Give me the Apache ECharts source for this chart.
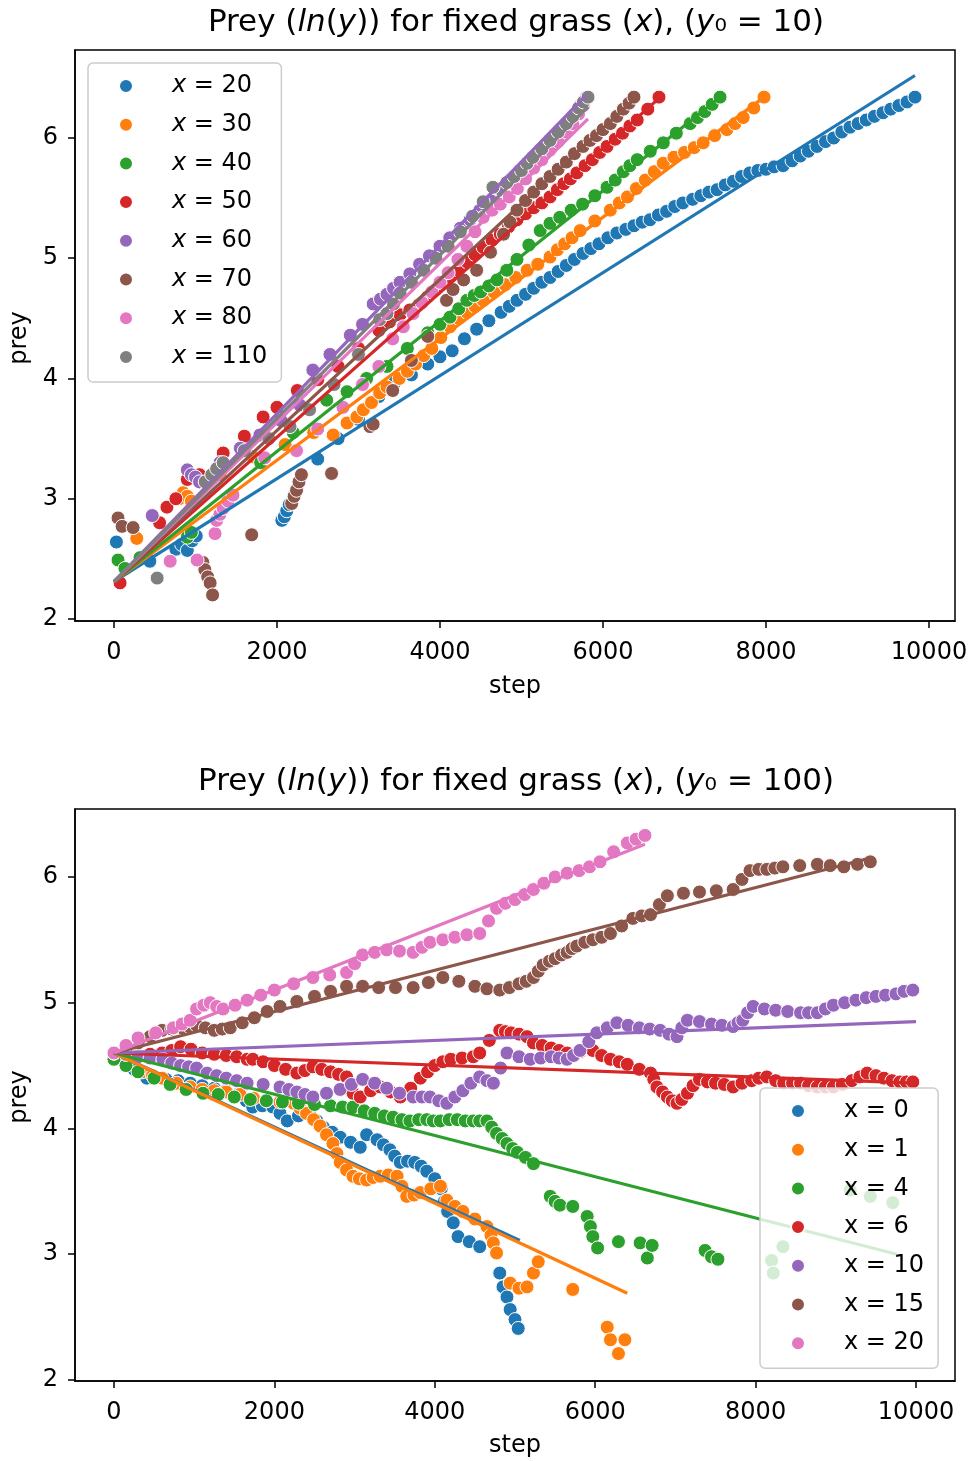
<!DOCTYPE html>
<html><head><meta charset="utf-8">
<script src="https://cdn.jsdelivr.net/npm/echarts@6/dist/echarts.min.js"></script>
<style>html,body{margin:0;padding:0;background:#fff}#c{width:973px;height:1461px}</style>
</head><body><div id="c"></div>
<script>
// ---------- tick labels ----------
const xTicks = [0, 2000, 4000, 6000, 8000, 10000];
const yTicks = [2, 3, 4, 5, 6];

// ---------- top panel (y0 = 10) ----------
const topLabels = ['20', '30', '40', '50', '60', '70', '80', '110'];
const t20 = [[30,2.64],[440,2.48],[760,2.58],[830,2.62],[900,2.57],[960,2.65],[1010,2.69],[2060,2.82],[2090,2.85],[2120,2.9],[2150,2.95],[2500,3.33],[2750,3.5],[3000,3.66],[3250,3.85],[3450,3.97],[3650,4.03],[3850,4.12],[4000,4.18],[4150,4.23],[4300,4.33],[4450,4.41],[4600,4.48],[4750,4.55],[4850,4.6],[4945,4.65],[5050,4.7],[5150,4.75],[5250,4.8],[5350,4.84],[5450,4.89],[5550,4.94],[5650,4.99],[5755,5.04],[5850,5.08],[5950,5.12],[6060,5.17],[6170,5.21],[6280,5.24],[6380,5.27],[6480,5.3],[6577,5.32],[6680,5.36],[6780,5.39],[6880,5.43],[6980,5.46],[7100,5.49],[7200,5.52],[7300,5.55],[7400,5.57],[7500,5.61],[7600,5.64],[7700,5.68],[7800,5.71],[7900,5.73],[8000,5.74],[8100,5.76],[8210,5.77],[8320,5.81],[8420,5.85],[8520,5.89],[8625,5.93],[8730,5.97],[8830,6.0],[8930,6.05],[9030,6.09],[9130,6.12],[9230,6.15],[9330,6.18],[9435,6.21],[9530,6.24],[9630,6.27],[9730,6.3],[9828,6.34]];
const t30 = [[280,2.67],[800,3.0],[850,3.05],[900,3.02],[950,2.98],[1300,3.2],[1700,3.35],[2100,3.45],[2450,3.55],[2690,3.53],[2860,3.63],[2980,3.68],[3060,3.74],[3160,3.8],[3260,3.88],[3350,3.93],[3500,4.0],[3600,4.06],[3700,4.12],[3800,4.19],[3900,4.25],[4010,4.34],[4123,4.43],[4230,4.5],[4330,4.55],[4430,4.6],[4530,4.65],[4660,4.72],[4800,4.78],[4930,4.84],[5070,4.9],[5200,4.95],[5350,5.01],[5440,5.07],[5530,5.12],[5620,5.17],[5720,5.23],[5900,5.31],[6090,5.4],[6200,5.46],[6300,5.51],[6410,5.58],[6520,5.65],[6630,5.72],[6740,5.79],[6870,5.84],[7000,5.88],[7120,5.92],[7230,5.96],[7370,6.02],[7520,6.07],[7620,6.12],[7720,6.17],[7850,6.25],[7976,6.34]];
const t40 = [[50,2.49],[135,2.42],[320,2.51],[900,2.68],[950,2.72],[1400,3.0],[1800,3.3],[2200,3.55],[2610,3.82],[2860,3.89],[3100,4.0],[3350,4.1],[3600,4.25],[3850,4.38],[4000,4.45],[4123,4.51],[4230,4.58],[4330,4.65],[4420,4.69],[4500,4.72],[4600,4.77],[4700,4.82],[4820,4.9],[4945,4.99],[5090,5.11],[5230,5.23],[5350,5.29],[5470,5.34],[5610,5.4],[5750,5.45],[5900,5.52],[6050,5.59],[6150,5.65],[6250,5.72],[6330,5.77],[6420,5.82],[6580,5.89],[6740,5.96],[6900,6.04],[7070,6.12],[7160,6.17],[7250,6.22],[7340,6.28],[7436,6.34]];
const t50 = [[75,2.3],[560,2.8],[650,2.93],[760,3.0],[900,3.16],[1050,3.2],[1340,3.38],[1600,3.52],[1830,3.68],[2000,3.76],[2250,3.9],[2500,3.99],[2750,4.1],[3000,4.25],[3250,4.4],[3380,4.47],[3510,4.53],[3630,4.57],[3750,4.62],[3850,4.68],[3950,4.74],[4040,4.79],[4123,4.84],[4230,4.9],[4330,4.97],[4430,5.03],[4530,5.09],[4640,5.15],[4740,5.2],[4840,5.26],[4945,5.32],[5050,5.37],[5150,5.42],[5250,5.46],[5350,5.51],[5440,5.57],[5520,5.62],[5600,5.66],[5680,5.71],[5780,5.77],[5870,5.82],[5960,5.88],[6050,5.93],[6150,5.99],[6240,6.04],[6330,6.1],[6420,6.15],[6550,6.24],[6687,6.34]];
const t60 = [[470,2.86],[900,3.24],[950,3.2],[1000,3.18],[1050,3.14],[1300,3.3],[1550,3.42],[1790,3.53],[2050,3.65],[2280,3.78],[2440,4.07],[2650,4.2],[2900,4.36],[3050,4.45],[3180,4.62],[3270,4.66],[3350,4.7],[3430,4.75],[3510,4.8],[3630,4.87],[3750,4.95],[3870,5.02],[4000,5.1],[4120,5.17],[4250,5.25],[4370,5.32],[4490,5.4],[4620,5.48],[4750,5.57],[4860,5.65],[4980,5.73],[5100,5.81],[5230,5.9],[5350,5.98],[5470,6.07],[5560,6.13],[5650,6.2],[5720,6.27],[5800,6.34]];
const t70 = [[50,2.84],[100,2.77],[235,2.76],[1090,2.47],[1115,2.41],[1150,2.35],[1180,2.3],[1210,2.2],[1690,2.7],[2180,2.96],[2210,3.02],[2240,3.07],[2270,3.14],[2300,3.2],[2670,3.21],[3140,3.6],[3180,3.62],[3420,3.9],[3650,4.15],[3850,4.35],[4080,4.65],[4160,4.74],[4290,4.82],[4450,4.9],[4620,5.05],[4780,5.2],[4860,5.3],[4945,5.4],[5050,5.48],[5150,5.55],[5250,5.62],[5350,5.68],[5450,5.74],[5550,5.8],[5650,5.87],[5755,5.93],[5840,5.98],[5920,6.02],[6000,6.07],[6090,6.12],[6170,6.18],[6250,6.24],[6320,6.29],[6380,6.34]];
const t80 = [[690,2.48],[1020,2.49],[1240,2.71],[1260,2.82],[1300,2.87],[1340,2.92],[1400,2.98],[1460,3.03],[1850,3.34],[2240,3.4],[2500,3.58],[2810,3.76],[3050,3.95],[3250,4.1],[3420,4.33],[3550,4.43],[3670,4.54],[3780,4.63],[3900,4.72],[4000,4.8],[4100,4.88],[4220,4.99],[4330,5.1],[4430,5.22],[4530,5.34],[4640,5.4],[4740,5.45],[4850,5.51],[4950,5.58],[5050,5.66],[5150,5.75],[5250,5.82],[5350,5.9],[5450,5.97],[5550,6.05],[5630,6.12],[5700,6.2],[5760,6.27],[5816,6.34]];
const t110 = [[530,2.34],[1120,3.14],[1200,3.2],[1260,3.25],[1340,3.3],[1600,3.4],[1900,3.5],[2160,3.6],[2400,3.74],[2700,3.95],[3000,4.2],[3260,4.49],[3350,4.54],[3430,4.62],[3510,4.71],[3650,4.8],[3800,4.9],[3950,5.0],[4100,5.1],[4250,5.22],[4400,5.35],[4530,5.47],[4650,5.59],[4820,5.63],[4910,5.68],[5000,5.73],[5070,5.79],[5140,5.84],[5250,5.91],[5350,5.98],[5450,6.05],[5550,6.12],[5630,6.18],[5700,6.25],[5760,6.3],[5816,6.34]];
// fitted lines (endpoints)
const t20Fit = [[0,2.31],[9828,6.52]];
const t30Fit = [[0,2.31],[7976,6.34]];
const t40Fit = [[0,2.31],[7436,6.34]];
const t50Fit = [[0,2.31],[6687,6.33]];
const t60Fit = [[0,2.31],[5800,6.36]];
const t70Fit = [[0,2.31],[6380,6.32]];
const t80Fit = [[0,2.31],[5816,6.16]];
const t110Fit = [[0,2.31],[5816,6.26]];

// ---------- bottom panel (y0 = 100) ----------
const bottomLabels = ['0', '1', '4', '6', '10', '15', '20'];
const b0 = [[0,4.6],[100,4.55],[250,4.47],[410,4.4],[510,4.4],[650,4.39],[800,4.38],[950,4.36],[1100,4.34],[1250,4.32],[1400,4.3],[1570,4.28],[1650,4.22],[1730,4.17],[1850,4.18],[1980,4.17],[2070,4.12],[2160,4.06],[2300,4.1],[2440,4.12],[2530,4.06],[2610,4.01],[2720,3.97],[2820,3.93],[2950,3.89],[3070,3.85],[3150,3.95],[3280,3.91],[3360,3.87],[3440,3.83],[3500,3.78],[3570,3.73],[3660,3.74],[3750,3.73],[3830,3.7],[3900,3.66],[4000,3.6],[4080,3.52],[4120,3.42],[4160,3.34],[4230,3.25],[4290,3.14],[4430,3.1],[4560,3.06],[4810,2.85],[4850,2.74],[4900,2.66],[4940,2.56],[5000,2.48],[5040,2.41]];
const b1 = [[0,4.6],[150,4.52],[350,4.45],[480,4.42],[600,4.4],[780,4.36],[950,4.33],[1100,4.31],[1250,4.3],[1400,4.29],[1570,4.27],[1740,4.24],[1900,4.22],[2070,4.21],[2240,4.2],[2320,4.16],[2400,4.12],[2490,4.07],[2570,4.02],[2650,3.95],[2730,3.88],[2780,3.8],[2820,3.73],[2900,3.67],[2980,3.62],[3060,3.6],[3150,3.59],[3230,3.61],[3320,3.62],[3420,3.63],[3530,3.62],[3590,3.54],[3650,3.46],[3740,3.47],[3820,3.49],[3950,3.52],[4070,3.54],[4150,3.43],[4250,3.38],[4350,3.34],[4500,3.28],[4650,3.22],[4700,3.15],[4730,3.09],[4770,3.01],[4940,2.77],[5050,2.73],[5150,2.74],[5230,2.85],[5290,2.94],[5720,2.72],[6150,2.42],[6190,2.32],[6290,2.21],[6370,2.32]];
const b4 = [[0,4.55],[150,4.5],[300,4.45],[500,4.4],[700,4.35],[900,4.31],[1110,4.28],[1300,4.27],[1500,4.25],[1700,4.23],[1900,4.22],[2100,4.21],[2300,4.2],[2500,4.19],[2700,4.18],[2850,4.17],[2980,4.17],[3120,4.14],[3250,4.12],[3370,4.1],[3480,4.09],[3590,4.07],[3690,4.06],[3800,4.07],[3900,4.07],[3980,4.06],[4070,4.06],[4180,4.07],[4280,4.07],[4380,4.06],[4480,4.06],[4560,4.06],[4650,4.06],[4710,4.01],[4770,3.96],[4840,3.92],[4900,3.88],[4970,3.84],[5030,3.81],[5130,3.77],[5230,3.72],[5440,3.46],[5500,3.42],[5560,3.39],[5720,3.38],[5900,3.3],[5940,3.22],[5970,3.14],[6030,3.05],[6290,3.1],[6560,3.09],[6650,2.97],[6710,3.07],[7370,3.03],[7450,2.98],[7530,2.96],[8200,2.95],[8220,2.85],[8340,3.06],[9180,3.51],[9430,3.46],[9710,3.41]];
const b6 = [[0,4.6],[150,4.59],[300,4.58],[450,4.59],[600,4.6],[720,4.62],[830,4.65],[960,4.63],[1100,4.6],[1250,4.59],[1400,4.58],[1530,4.57],[1660,4.55],[1730,4.55],[1860,4.53],[2000,4.5],[2140,4.47],[2280,4.44],[2380,4.46],[2480,4.49],[2590,4.47],[2700,4.45],[2800,4.43],[2900,4.41],[2940,4.34],[2980,4.28],[3070,4.25],[3200,4.3],[3320,4.33],[3450,4.29],[3570,4.25],[3700,4.32],[3820,4.4],[3910,4.45],[4000,4.5],[4100,4.53],[4200,4.55],[4340,4.56],[4480,4.57],[4560,4.6],[4680,4.7],[4810,4.78],[4880,4.77],[4950,4.76],[5050,4.75],[5150,4.73],[5230,4.68],[5340,4.66],[5450,4.64],[5550,4.62],[5650,4.6],[5810,4.61],[5970,4.62],[6080,4.58],[6190,4.55],[6300,4.53],[6400,4.51],[6550,4.47],[6690,4.44],[6730,4.39],[6770,4.33],[6840,4.29],[6900,4.25],[6960,4.22],[7020,4.2],[7080,4.23],[7150,4.28],[7220,4.34],[7300,4.39],[7400,4.37],[7500,4.36],[7610,4.35],[7720,4.33],[7830,4.36],[7950,4.38],[8040,4.4],[8140,4.41],[8250,4.38],[8350,4.36],[8460,4.36],[8560,4.36],[8660,4.34],[8770,4.33],[8870,4.33],[8970,4.33],[9080,4.35],[9200,4.38],[9300,4.41],[9390,4.44],[9500,4.42],[9600,4.4],[9700,4.38],[9800,4.37],[9880,4.37],[9960,4.37]];
const b10 = [[0,4.6],[150,4.59],[300,4.57],[450,4.56],[610,4.55],[720,4.52],[830,4.5],[930,4.49],[1030,4.48],[1160,4.44],[1280,4.42],[1400,4.4],[1530,4.38],[1660,4.36],[1860,4.35],[2070,4.33],[2180,4.31],[2280,4.29],[2380,4.27],[2480,4.25],[2650,4.28],[2820,4.31],[2960,4.35],[3100,4.39],[3250,4.36],[3400,4.32],[3560,4.28],[3730,4.25],[3840,4.25],[3940,4.25],[4050,4.22],[4150,4.2],[4250,4.25],[4350,4.3],[4450,4.36],[4560,4.41],[4650,4.38],[4730,4.36],[4820,4.48],[4900,4.6],[5050,4.57],[5190,4.55],[5320,4.56],[5450,4.57],[5550,4.56],[5650,4.55],[5730,4.58],[5810,4.62],[5920,4.69],[6020,4.76],[6150,4.8],[6270,4.84],[6410,4.82],[6550,4.8],[6680,4.79],[6810,4.78],[6920,4.75],[7020,4.73],[7080,4.8],[7150,4.86],[7300,4.85],[7450,4.83],[7580,4.82],[7720,4.81],[7780,4.84],[7840,4.86],[7900,4.92],[7970,4.97],[8110,4.95],[8250,4.94],[8400,4.93],[8560,4.92],[8660,4.92],[8770,4.92],[8870,4.95],[8970,4.98],[9110,5.0],[9250,5.02],[9380,5.04],[9500,5.05],[9620,5.06],[9750,5.07],[9850,5.09],[9960,5.1]];
const b15 = [[0,4.6],[150,4.64],[300,4.68],[450,4.73],[600,4.78],[720,4.79],[850,4.8],[940,4.81],[1030,4.82],[1140,4.8],[1250,4.78],[1350,4.79],[1450,4.8],[1600,4.84],[1750,4.88],[1910,4.93],[2070,4.97],[2280,5.01],[2500,5.05],[2700,5.09],[2900,5.13],[3100,5.13],[3300,5.12],[3510,5.12],[3730,5.12],[3920,5.16],[4100,5.2],[4300,5.17],[4500,5.13],[4650,5.11],[4810,5.1],[4930,5.12],[5050,5.15],[5140,5.17],[5230,5.2],[5290,5.25],[5350,5.3],[5430,5.33],[5500,5.35],[5580,5.38],[5650,5.4],[5710,5.43],[5770,5.45],[5870,5.48],[5970,5.5],[6080,5.52],[6190,5.55],[6330,5.61],[6470,5.67],[6580,5.69],[6690,5.7],[6800,5.78],[6900,5.85],[7100,5.87],[7300,5.88],[7510,5.89],[7720,5.9],[7830,5.98],[7930,6.05],[8040,6.06],[8140,6.06],[8240,6.07],[8340,6.08],[8550,6.09],[8770,6.1],[8930,6.09],[9100,6.08],[9270,6.1],[9430,6.12]];
const b20 = [[0,4.6],[150,4.66],[300,4.72],[520,4.76],[740,4.8],[850,4.83],[950,4.86],[1030,4.95],[1120,4.98],[1200,5.0],[1280,4.97],[1360,4.95],[1510,4.98],[1660,5.02],[1830,5.06],[2000,5.1],[2240,5.15],[2480,5.2],[2690,5.22],[2900,5.24],[3000,5.31],[3100,5.38],[3250,5.4],[3400,5.42],[3560,5.41],[3730,5.4],[3840,5.44],[3940,5.48],[4100,5.5],[4250,5.52],[4400,5.54],[4560,5.55],[4670,5.65],[4770,5.75],[4880,5.79],[5000,5.82],[5120,5.86],[5230,5.9],[5360,5.95],[5500,6.0],[5650,6.03],[5800,6.05],[5930,6.08],[6060,6.12],[6230,6.2],[6400,6.27],[6510,6.3],[6620,6.33]];
const b0Fit = [[0,4.6],[5060,3.11]];
const b1Fit = [[0,4.6],[6400,2.69]];
const b4Fit = [[0,4.6],[9760,3.0]];
const b6Fit = [[0,4.6],[10000,4.36]];
const b10Fit = [[0,4.6],[10000,4.85]];
const b15Fit = [[0,4.6],[9430,6.15]];
const b20Fit = [[0,4.6],[6620,6.26]];

// ---------- styles ----------
const palette = ['#1f77b4','#ff7f0e','#2ca02c','#d62728','#9467bd','#8c564b','#e377c2','#7f7f7f'];
const FONT = 'DejaVu Sans';
const topData = [t20, t30, t40, t50, t60, t70, t80, t110];
const topFits = [t20Fit, t30Fit, t40Fit, t50Fit, t60Fit, t70Fit, t80Fit, t110Fit];
const botData = [b0, b1, b4, b6, b10, b15, b20];
const botFits = [b0Fit, b1Fit, b4Fit, b6Fit, b10Fit, b15Fit, b20Fit];

const topNames = topLabels.map(v => 'T' + v);
const botNames = bottomLabels.map(v => 'B' + v);

function scatter(name, data, idx, color) {
  return { type: 'scatter', name, data, xAxisIndex: idx, yAxisIndex: idx,
    symbol: 'circle', symbolSize: 14,
    itemStyle: { color, borderColor: '#ffffff', borderWidth: 1, opacity: 1 },
    emphasis: { disabled: true }, silent: true, z: 2 };
}
function fit(data, idx, color) {
  return { type: 'line', data, xAxisIndex: idx, yAxisIndex: idx, symbol: 'none',
    lineStyle: { color, width: 3.2 }, emphasis: { disabled: true }, silent: true, z: 3 };
}

const series = [];
topData.forEach((d, i) => series.push(scatter(topNames[i], d, 0, palette[i])));
botData.forEach((d, i) => series.push(scatter(botNames[i], d, 1, palette[i])));
topFits.forEach((d, i) => series.push(fit(d, 0, palette[i])));
botFits.forEach((d, i) => series.push(fit(d, 1, palette[i])));

function xAxis(idx, min, max) {
  return { type: 'value', gridIndex: idx, min, max,
    axisLine: { show: true, onZero: false, lineStyle: { color: '#000', width: 1.5 } },
    axisTick: { show: true, customValues: xTicks, length: 7, lineStyle: { color: '#000', width: 1.5 } },
    axisLabel: { customValues: xTicks, formatter: v => String(v), fontSize: 24, fontFamily: FONT, color: '#000', margin: 20 },
    splitLine: { show: false } };
}
function yAxis(idx, min, max) {
  return { type: 'value', gridIndex: idx, min, max,
    axisLine: { show: true, onZero: false, lineStyle: { color: '#000', width: 1.5 } },
    axisTick: { show: true, customValues: yTicks, length: 7, lineStyle: { color: '#000', width: 1.5 } },
    axisLabel: { customValues: yTicks, formatter: v => String(v), fontSize: 24, fontFamily: FONT, color: '#000', margin: 17 },
    splitLine: { show: false } };
}

function legend(names, labels, left, top, italic) {
  return { data: names, left, top, orient: 'vertical', icon: 'circle',
    itemWidth: 14, itemHeight: 14, itemGap: 12.7, padding: [10, 14, 12, 30],
    backgroundColor: 'rgba(255,255,255,0.8)', borderColor: '#cccccc', borderWidth: 1.5, borderRadius: 5,
    selectedMode: false,
    formatter: name => { const v = labels[names.indexOf(name)]; return italic ? '{i|x} = ' + v : 'x = ' + v; },
    textStyle: { fontSize: 24, fontFamily: FONT, color: '#000', lineHeight: 26, padding: [0, 0, 0, 34],
      rich: { i: { fontStyle: 'italic', fontSize: 24, fontFamily: FONT, color: '#000', lineHeight: 26 } } } };
}

function label(text, x, y, size, rot) {
  return { type: 'text', x, y, rotation: rot || 0, silent: true,
    style: { text, fontSize: size, fontFamily: FONT, fill: '#000',
      align: 'center', verticalAlign: 'middle', textAlign: 'center', textVerticalAlign: 'middle',
      rich: { i: { fontStyle: 'italic', fontSize: size, fontFamily: FONT, fill: '#000' } } } };
}

const option = {
  animation: false,
  backgroundColor: '#ffffff',
  grid: [
    { left: 75, top: 50, width: 880, height: 571, show: true, borderColor: '#000', borderWidth: 1.5, containLabel: false },
    { left: 75, top: 809, width: 880, height: 572, show: true, borderColor: '#000', borderWidth: 1.5, containLabel: false }
  ],
  xAxis: [xAxis(0, -478, 10319), xAxis(1, -486, 10486)],
  yAxis: [yAxis(0, 1.983, 6.732), yAxis(1, 1.992, 6.54)],
  legend: [legend(topNames, topLabels, 88, 63, true), legend(botNames, bottomLabels, 760, 1088, false)],
  graphic: [
    label('Prey ({i|ln}({i|y})) for fixed grass ({i|x}), ({i|y}₀ = 10)', 516, 23, 31),
    label('Prey ({i|ln}({i|y})) for fixed grass ({i|x}), ({i|y}₀ = 100)', 516, 782, 31),
    label('step', 515, 687, 24),
    label('step', 515, 1446, 24),
    label('prey', 20, 338, 24, Math.PI / 2),
    label('prey', 20, 1097, 24, Math.PI / 2)
  ],
  series
};
const chart = echarts.init(document.getElementById('c'), null, { renderer: 'canvas' });
chart.setOption(option);
</script>
</body></html>
